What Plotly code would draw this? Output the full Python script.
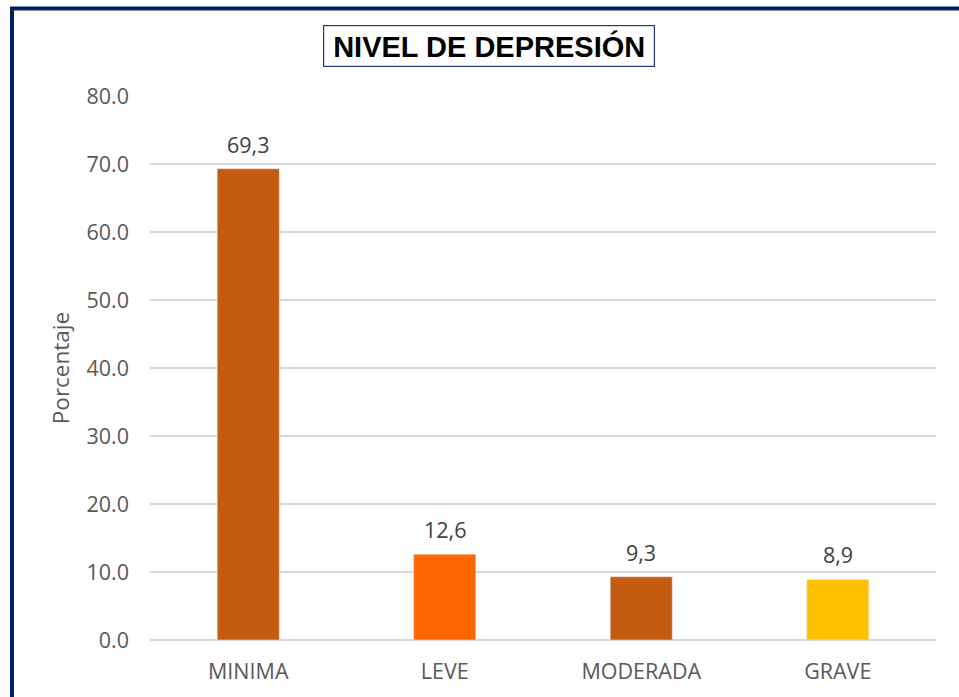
import plotly.graph_objects as go

categories = ["MINIMA", "LEVE", "MODERADA", "GRAVE"]
values = [69.3, 12.6, 9.3, 8.9]
colors = ["#C55A11", "#FF6600", "#C55A11", "#FFC000"]
tick_vals = [0, 10, 20, 30, 40, 50, 60, 70, 80]
tick_text = [f"{v:.1f}" for v in tick_vals]
labels = [f"{v:.1f}".replace(".", ",") for v in values]

W, H = 959, 697
L, R, T, B = 150, 23, 96, 57
pw, ph = W - L - R, H - T - B

def px(x):
    return (x - L) / pw

def py(y):
    return (H - B - y) / ph

font_main = "Open Sans"
fs = 21.5

fig = go.Figure(go.Bar(
    x=categories, y=values, marker_color=colors, width=0.316,
))

value_annotations = [
    dict(x=c, y=v, text=t, xref="x", yref="y", showarrow=False,
         xanchor="center", yanchor="bottom", yshift=8,
         font=dict(family=font_main, size=fs, color="#404040"))
    for c, v, t in zip(categories, values, labels)
]

fig.update_layout(
    width=W, height=H,
    margin=dict(l=L, r=R, t=T, b=B),
    paper_bgcolor="white", plot_bgcolor="white",
    showlegend=False,
    xaxis=dict(showgrid=False, showline=False, ticks="",
               tickfont=dict(family=font_main, size=fs, color="#595959"),
               ticklabelstandoff=16),
    yaxis=dict(range=[0, 80], tickvals=tick_vals, ticktext=tick_text,
               showgrid=True, gridcolor="#D9D9D9", gridwidth=1.5,
               zeroline=True, zerolinecolor="#D9D9D9", zerolinewidth=1.5,
               showline=False, ticks="",
               tickfont=dict(family=font_main, size=fs, color="#595959"),
               ticklabelstandoff=20,
               title=dict(text="Porcentaje", standoff=10,
                          font=dict(family=font_main, size=22.5, color="#595959"))),
    shapes=[dict(type="rect", xref="paper", yref="paper",
                 x0=px(12), x1=px(990), y0=py(730), y1=py(8.5),
                 line=dict(color="#002060", width=4), fillcolor="rgba(0,0,0,0)")],
    annotations=value_annotations + [
        dict(text="<b>NIVEL DE DEPRESIÓN</b>", xref="paper", yref="paper",
             x=px(488.5), y=py(45.5), xanchor="center", yanchor="middle",
             showarrow=False, width=330, height=40, borderpad=0,
             bordercolor="#1F3C88", borderwidth=1.2, bgcolor="white",
             font=dict(family="Liberation Sans", size=29, color="black"))],
)

fig.write_html("out.html", config={"displayModeBar": False},
               post_script="document.body.style.margin='0';document.body.style.overflow='hidden';")
